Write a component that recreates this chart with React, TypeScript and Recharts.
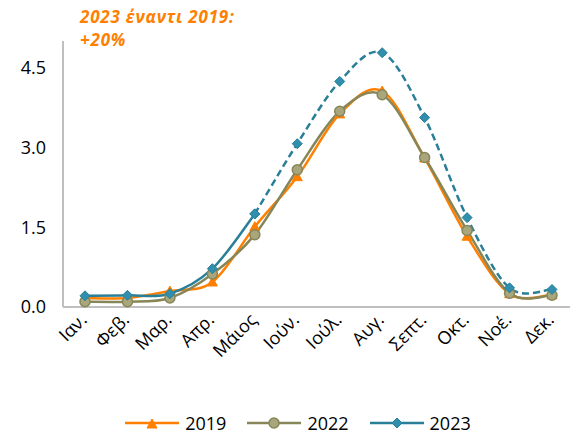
import React from 'react'
import { LineChart, Line, XAxis, YAxis, Legend } from 'recharts'

const months = ['Ιαν.', 'Φεβ.', 'Μαρ.', 'Απρ.', 'Μάιος', 'Ιούν.', 'Ιούλ.', 'Αυγ.', 'Σεπτ.', 'Οκτ.', 'Νοέ.', 'Δεκ.']
const y2019 = [0.17, 0.17, 0.3, 0.47, 1.51, 2.45, 3.63, 4.06, 2.8, 1.33, 0.25, 0.23]
const y2022 = [0.1, 0.1, 0.17, 0.62, 1.36, 2.58, 3.68, 3.99, 2.81, 1.44, 0.26, 0.22]
const y2023 = [0.21, 0.22, 0.25, 0.72, 1.75, 3.07, 4.24, 4.78, 3.56, 1.68, 0.36, 0.33]
const yTicks = [0, 1.5, 3, 4.5]
const note = ['2023 έναντι 2019:', '+20%']

// 2023 is drawn solid up to May, dashed after
const data = months.map((m, i) => ({
  month: m,
  y2019: y2019[i],
  y2022: y2022[i],
  y2023a: i <= 4 ? y2023[i] : null,
  y2023b: i >= 4 ? y2023[i] : null,
}))

const C19 = '#FF8000'
const C22 = '#878659'
const C22F = '#A9A67C'
const C23 = '#2A7F98'
const C23F = '#2F8FAD'
const FONT = '"Open Sans", sans-serif'

// excel-like smoothed line (catmull-rom through the points)
const smooth = (ctx: any) => {
  let pts: number[][] = []
  return {
    areaStart() {},
    areaEnd() {},
    lineStart() {
      pts = []
    },
    point(x: number, y: number) {
      pts.push([+x, +y])
    },
    lineEnd() {
      const n = pts.length
      if (!n) return
      ctx.moveTo(pts[0][0], pts[0][1])
      for (let i = 0; i < n - 1; i++) {
        const p0 = pts[Math.max(i - 1, 0)]
        const p1 = pts[i]
        const p2 = pts[i + 1]
        const p3 = pts[Math.min(i + 2, n - 1)]
        ctx.bezierCurveTo(
          p1[0] + (p2[0] - p0[0]) / 6,
          p1[1] + (p2[1] - p0[1]) / 6,
          p2[0] - (p3[0] - p1[0]) / 6,
          p2[1] - (p3[1] - p1[1]) / 6,
          p2[0],
          p2[1]
        )
      }
    },
  }
}

const Triangle = ({ cx, cy, color }: any) => (
  <path d={`M${cx},${cy - 5} L${cx + 5},${cy + 4} L${cx - 5},${cy + 4} Z`} fill={color} stroke={color} strokeWidth={1} />
)
const Circle = ({ cx, cy }: any) => <circle cx={cx} cy={cy} r={5} fill={C22F} stroke={C22} strokeWidth={1.5} />
const Diamond = ({ cx, cy }: any) => (
  <path d={`M${cx},${cy - 5} L${cx + 5},${cy} L${cx},${cy + 5} L${cx - 5},${cy} Z`} fill={C23F} stroke={C23} strokeWidth={1} />
)

const dotFn = (kind: string) => (p: any) => {
  if (p.value == null || p.cy == null) return <g key={`${kind}-${p.index}`} />
  const k = `${kind}-${p.index}`
  if (kind === 'tri') return <Triangle key={k} cx={p.cx} cy={p.cy} color={C19} />
  if (kind === 'cir') return <Circle key={k} cx={p.cx} cy={p.cy} />
  return <Diamond key={k} cx={p.cx} cy={p.cy} />
}

const MonthTick = ({ x, y, payload }: any) => (
  <text
    x={0}
    y={0}
    transform={`translate(${x + 3},${y + 6}) rotate(-45)`}
    textAnchor="end"
    fontSize={18}
    fontFamily={FONT}
    fill="#000"
  >
    {payload.value}
  </text>
)

const legendItems = [
  { label: '2019', color: C19, kind: 'tri' },
  { label: '2022', color: C22, kind: 'cir' },
  { label: '2023', color: C23, kind: 'dia' },
]

const LegendContent = () => (
  <div style={{ display: 'flex', justifyContent: 'center', gap: 21, paddingLeft: 26, fontFamily: FONT, fontSize: 18 }}>
    {legendItems.map((it) => (
      <div key={it.label} style={{ display: 'flex', alignItems: 'center', gap: 6 }}>
        <svg width={54} height={14}>
          <line x1={0} y1={7} x2={54} y2={7} stroke={it.color} strokeWidth={2.5} />
          {it.kind === 'tri' && <Triangle cx={27} cy={8} color={C19} />}
          {it.kind === 'cir' && <Circle cx={27} cy={7} />}
          {it.kind === 'dia' && <Diamond cx={27} cy={7} />}
        </svg>
        <span style={{ color: '#000' }}>{it.label}</span>
      </div>
    ))}
  </div>
)

export default function App() {
  return (
    <div style={{ position: 'absolute', left: 0, top: 0, width: 570, height: 435, background: '#fff' }}>
      {note.map((t, i) => (
        <div
          key={t}
          style={{
            position: 'absolute',
            left: 80,
            top: 5 + i * 23,
            color: C19,
            fontFamily: FONT,
            fontWeight: 700,
            fontStyle: 'italic',
            fontSize: 17,
            letterSpacing: 0.8,
            lineHeight: '23px',
            whiteSpace: 'nowrap',
            zIndex: 2,
          }}
        >
          {t}
        </div>
      ))}
      <LineChart width={570} height={435} data={data} margin={{ top: 41, right: 0, bottom: 0, left: 0 }}>
        <XAxis
          dataKey="month"
          tick={<MonthTick />}
          tickLine={false}
          axisLine={{ stroke: '#BFBFBF', strokeWidth: 2 }}
          height={104}
          interval={0}
          padding={{ left: 22, right: 18 }}
        />
        <YAxis
          domain={[0, 5]}
          ticks={yTicks}
          tickFormatter={(v: number) => v.toFixed(1)}
          tick={{ fill: '#000', fontSize: 18, fontFamily: FONT }}
          tickLine={false}
          axisLine={{ stroke: '#BFBFBF', strokeWidth: 2 }}
          width={63}
          tickMargin={11}
        />
        <Legend verticalAlign="bottom" content={<LegendContent />} />
        <Line type={smooth as any} dataKey="y2019" stroke={C19} strokeWidth={2.5} dot={dotFn('tri')} isAnimationActive={false} />
        <Line type={smooth as any} dataKey="y2022" stroke={C22} strokeWidth={2.5} dot={dotFn('cir')} isAnimationActive={false} />
        <Line type={smooth as any} dataKey="y2023a" stroke={C23} strokeWidth={2.5} dot={dotFn('dia')} connectNulls={false} isAnimationActive={false} />
        <Line
          type={smooth as any}
          dataKey="y2023b"
          stroke={C23}
          strokeWidth={2.5}
          strokeDasharray="7 4"
          dot={dotFn('dia')}
          connectNulls={false}
          isAnimationActive={false}
        />
      </LineChart>
    </div>
  )
}
